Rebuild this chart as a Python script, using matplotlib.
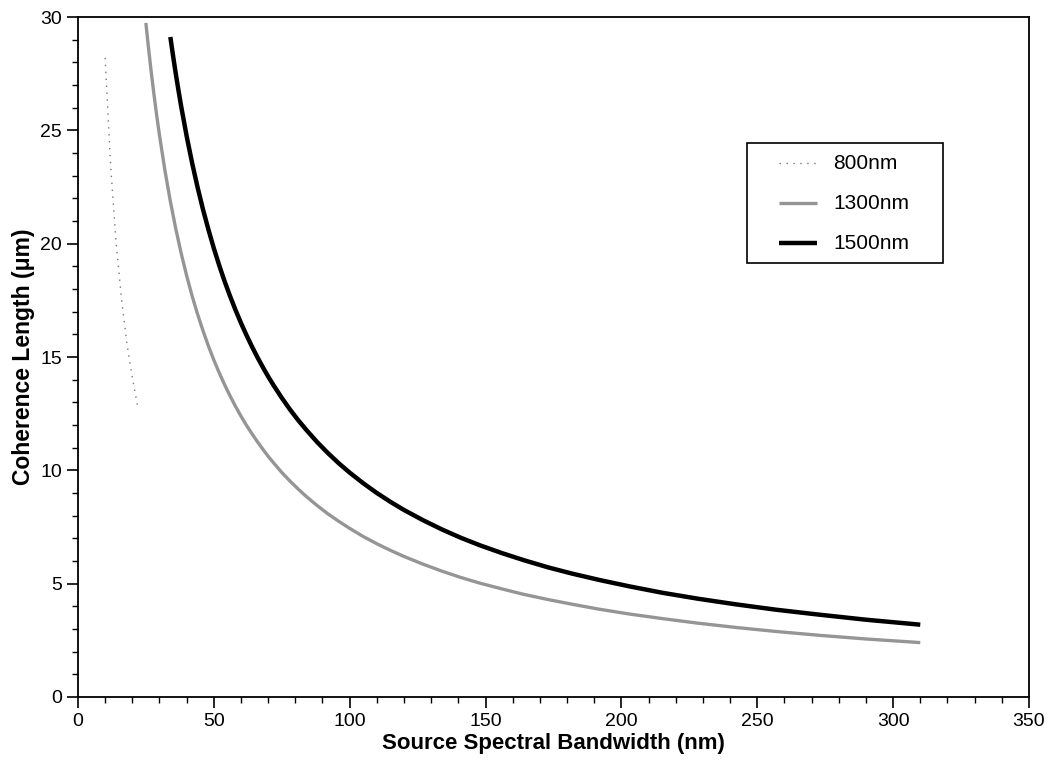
import matplotlib.pyplot as plt
from matplotlib.ticker import MultipleLocator
from matplotlib.patches import Rectangle

plt.rcParams['font.family'] = ['Liberation Sans', 'DejaVu Sans']

# source bandwidth (nm) vs coherence length (um)
bw_800 = [10, 12, 14, 16, 18, 20, 22]
cl_800 = [28.2, 23.5, 20.1, 17.6, 15.6, 14.1, 12.8]

bw_1300 = [25, 26, 27, 28, 29, 30, 32, 34, 36, 38, 40, 42, 44, 46, 48, 50, 52, 54,
           56, 58, 60, 62, 64, 66, 68, 70, 72, 75, 78, 81, 84, 88, 92, 96, 100, 105,
           110, 115, 120, 127, 134, 141, 148, 156, 164, 173, 182, 192, 203, 215, 228,
           242, 257, 273, 290, 310]
cl_1300 = [29.74, 28.6, 27.54, 26.56, 25.64, 24.79, 23.24, 21.87, 20.66, 19.57,
           18.59, 17.70, 16.90, 16.17, 15.49, 14.87, 14.30, 13.77, 13.28, 12.82,
           12.39, 11.99, 11.62, 11.27, 10.94, 10.62, 10.33, 9.91, 9.53, 9.18, 8.85,
           8.45, 8.08, 7.75, 7.44, 7.08, 6.76, 6.47, 6.20, 5.86, 5.55, 5.27, 5.02,
           4.77, 4.53, 4.30, 4.09, 3.87, 3.66, 3.46, 3.26, 3.07, 2.89, 2.72, 2.56, 2.40]

bw_1500 = [34, 35, 36, 37, 38, 40, 42, 44, 46, 48, 50, 52, 54, 56, 58, 60, 62, 64,
           66, 68, 70, 72, 75, 78, 81, 84, 88, 92, 96, 100, 105, 110, 115, 120, 127,
           134, 141, 148, 156, 164, 173, 182, 192, 203, 215, 228, 242, 257, 273, 290,
           310]
cl_1500 = [29.12, 28.29, 27.5, 26.76, 26.05, 24.75, 23.57, 22.5, 21.52, 20.63, 19.8,
           19.04, 18.33, 17.68, 17.07, 16.5, 15.97, 15.47, 15.0, 14.56, 14.14, 13.75,
           13.2, 12.69, 12.22, 11.79, 11.25, 10.76, 10.31, 9.9, 9.43, 9.0, 8.61, 8.25,
           7.8, 7.39, 7.02, 6.69, 6.35, 6.04, 5.72, 5.44, 5.16, 4.88, 4.6, 4.34, 4.09,
           3.85, 3.63, 3.41, 3.19]

labels = ['800nm', '1300nm', '1500nm']

fig = plt.figure(figsize=(10.52, 7.64), dpi=100)
ax = fig.add_axes([0.0741, 0.0877, 0.904, 0.89])

st_800 = dict(color='#777777', lw=1.0, ls=(0, (1, 4)))
st_1300 = dict(color='#959595', lw=2.4, solid_joinstyle='round', solid_capstyle='butt')
st_1500 = dict(color='black', lw=3.2, solid_joinstyle='round', solid_capstyle='butt')

ax.plot(bw_800, cl_800, **st_800)
ax.plot(bw_1300, cl_1300, **st_1300)
ax.plot(bw_1500, cl_1500, **st_1500)

ax.set_xlim(0, 350)
ax.set_ylim(0, 30)
ax.xaxis.set_major_locator(MultipleLocator(50))
ax.xaxis.set_minor_locator(MultipleLocator(10))
ax.yaxis.set_major_locator(MultipleLocator(5))
ax.yaxis.set_minor_locator(MultipleLocator(1))
ax.tick_params(which='major', direction='out', length=8, width=1.2, labelsize=14)
ax.tick_params(which='minor', direction='out', length=4, width=1.0)
for s in ax.spines.values():
    s.set_linewidth(1.3)

ax.set_xlabel('Source Spectral Bandwidth (nm)', fontsize=16, fontweight='bold', labelpad=2)
ax.set_ylabel('Coherence Length (\u03bcm)', fontsize=16.5, fontweight='bold', labelpad=4)

# legend box drawn by hand to get the wide side padding of the original
ax.add_patch(Rectangle((0.7035, 0.638), 0.2061, 0.1767, transform=ax.transAxes,
                       fill=False, ec='black', lw=1.2))
rows_y = [0.785, 0.7265, 0.6676]
for lab, st, yy in zip(labels, [st_800, st_1300, st_1500], rows_y):
    ax.plot([0.737, 0.777], [yy, yy], transform=ax.transAxes, **st)
    ax.text(0.794, yy, lab, transform=ax.transAxes, fontsize=15, va='center', ha='left')

fig.savefig('out.png', dpi=100)
